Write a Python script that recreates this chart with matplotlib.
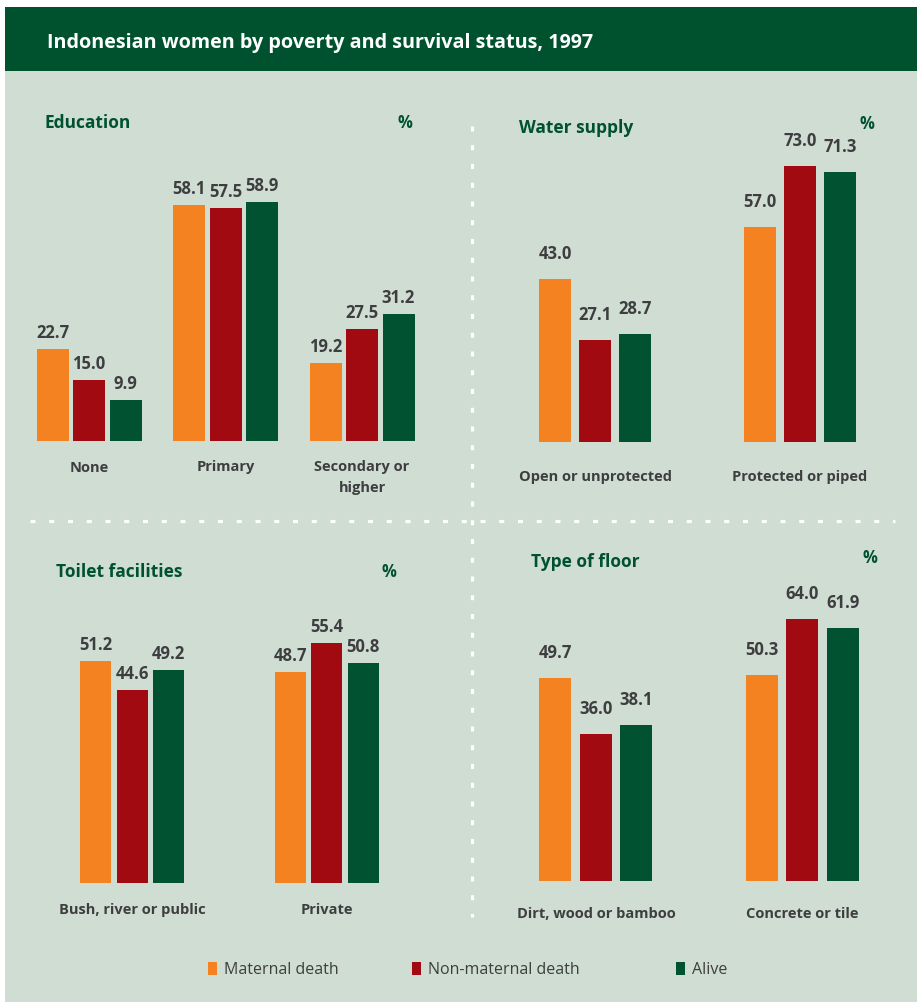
import numpy as np
import matplotlib
matplotlib.use("Agg")
import matplotlib.pyplot as plt
from matplotlib.patches import Rectangle

# series
series_names = ["Maternal death", "Non-maternal death", "Alive"]

edu_cats = ["None", "Primary", "Secondary or\nhigher"]
edu_maternal = [22.7, 58.1, 19.2]
edu_nonmaternal = [15.0, 57.5, 27.5]
edu_alive = [9.9, 58.9, 31.2]

water_cats = ["Open or unprotected", "Protected or piped"]
water_maternal = [43.0, 57.0]
water_nonmaternal = [27.1, 73.0]
water_alive = [28.7, 71.3]

toilet_cats = ["Bush, river or public", "Private"]
toilet_maternal = [51.2, 48.7]
toilet_nonmaternal = [44.6, 55.4]
toilet_alive = [49.2, 50.8]

floor_cats = ["Dirt, wood or bamboo", "Concrete or tile"]
floor_maternal = [49.7, 50.3]
floor_nonmaternal = [36.0, 64.0]
floor_alive = [38.1, 61.9]

COLORS = ["#f58220", "#a20a12", "#005230"]
BG = "#cfddd3"
HEAD = "#00522f"
TITLE_GREEN = "#00522f"
GRAY = "#3e3e40"

W, H = 917, 1003
plt.rcParams['font.family'] = ['Open Sans', 'DejaVu Sans']
plt.rcParams['lines.scale_dashes'] = False

fig = plt.figure(figsize=(W / 100, H / 100), dpi=100)
fig.patch.set_facecolor("white")

# background layer in pixel units
bg = fig.add_axes([0, 0, 1, 1])
bg.set_xlim(0, W)
bg.set_ylim(H, 0)
bg.axis("off")
bg.add_patch(Rectangle((5, 72), W - 5, H - 72, color=BG, lw=0))
bg.add_patch(Rectangle((5, 8), W - 5, 64, color=HEAD, lw=0))
bg.text(47, 48, "Indonesian women by poverty and survival status, 1997",
        color="white", fontsize=14.2, fontweight="bold", va="baseline")

# dashed separators
bg.plot([30, 895], [522, 522], color="white", lw=2.3, dashes=(3.6, 9.9),
        solid_capstyle="butt", dash_capstyle="butt")
bg.plot([472, 472], [127, 918], color="white", lw=2.3, dashes=(3.6, 9.9),
        solid_capstyle="butt", dash_capstyle="butt")


def panel(cats, mat, nonmat, alive, title, title_xy, pct_xy,
          c0, sp, bw, step, base, scale, val_gap, lab_gap):
    n = len(cats)
    left = c0 - sp / 2
    width = n * sp
    ymax = 80
    height = ymax * scale
    ax = fig.add_axes([left / W, 1 - base / H, width / W, height / H])
    ax.set_xlim(-0.5, n - 0.5)
    ax.set_ylim(0, ymax)
    ax.axis("off")
    x = np.arange(n)
    for k, vals in enumerate([mat, nonmat, alive]):
        xs = x + (k - 1) * step / sp
        ax.bar(xs, vals, width=bw / sp, color=COLORS[k], lw=0)
        for xi, v in zip(xs, vals):
            ax.annotate(f"{v:.1f}", (xi, v), xytext=(0, val_gap * 0.72),
                        textcoords="offset points", ha="center", va="center",
                        fontsize=12, fontweight="bold", color=GRAY,
                        annotation_clip=False)
    for xi, c in zip(x, cats):
        ax.annotate(c, (xi, 0), xytext=(0, -lab_gap * 0.72),
                    textcoords="offset points", ha="center", va="top",
                    fontsize=10.5, fontweight="bold", color=GRAY,
                    linespacing=1.6, annotation_clip=False)
    bg.text(title_xy[0], title_xy[1], title, color=TITLE_GREEN, fontsize=12.5,
            fontweight="bold", va="baseline", ha="left")
    bg.text(pct_xy[0], pct_xy[1], "%", color=TITLE_GREEN, fontsize=12,
            fontweight="bold", va="baseline", ha="center")
    return ax


panel(edu_cats, edu_maternal, edu_nonmaternal, edu_alive, "Education",
      (44, 128), (405, 128), c0=89, sp=136.5, bw=32, step=36.5, base=441.5,
      scale=4.05, val_gap=17, lab_gap=19)
panel(water_cats, water_maternal, water_nonmaternal, water_alive, "Water supply",
      (519, 133), (867, 129), c0=595.5, sp=204.5, bw=32, step=40, base=443,
      scale=3.78, val_gap=26, lab_gap=27)
panel(toilet_cats, toilet_maternal, toilet_nonmaternal, toilet_alive,
      "Toilet facilities", (56, 577), (389, 577), c0=132, sp=194.5, bw=31,
      step=36.5, base=884, scale=4.33, val_gap=17, lab_gap=19)
panel(floor_cats, floor_maternal, floor_nonmaternal, floor_alive, "Type of floor",
      (531, 567), (870, 563), c0=596, sp=206.5, bw=32, step=40.5, base=882,
      scale=4.09, val_gap=26, lab_gap=25)

# legend
key_x = [208, 412, 676]
for kx, name, col in zip(key_x, series_names, COLORS):
    bg.add_patch(Rectangle((kx, 963), 9, 13, color=col, lw=0))
    bg.text(kx + 16, 970, name, color=GRAY, fontsize=11.5, va="center", ha="left")

fig.savefig("out.png", dpi=100, facecolor=fig.get_facecolor())
